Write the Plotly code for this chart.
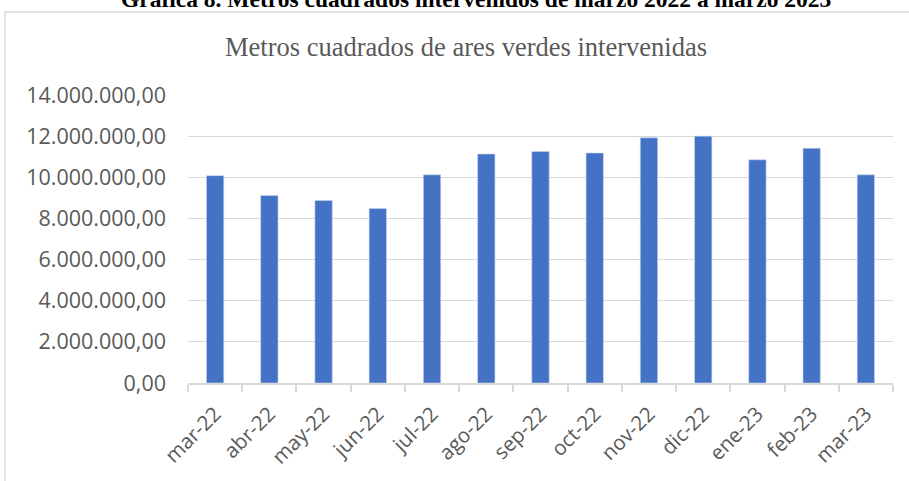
import plotly.graph_objects as go

months = ["mar-22", "abr-22", "may-22", "jun-22", "jul-22", "ago-22", "sep-22",
          "oct-22", "nov-22", "dic-22", "ene-23", "feb-23", "mar-23"]
metros = [10080000, 9110000, 8870000, 8480000, 10120000, 11130000, 11250000,
          11180000, 11920000, 12000000, 10850000, 11410000, 10120000]

fig_title = "Gráfica 8. Metros cuadrados intervenidos de marzo 2022 a marzo 2023"
chart_title = "Metros cuadrados de ares verdes intervenidas"

W, H = 909, 481
GRID = "#d9d9d9"
TXT = "#595959"

fig = go.Figure(go.Bar(
    x=months, y=metros,
    marker_color="#4472C4",
    marker_line_color="#c9d6ef", marker_line_width=0.6,
    width=0.32,
))

fig.update_layout(
    width=W, height=H,
    margin=dict(l=188, r=16, t=95, b=98),
    paper_bgcolor="white", plot_bgcolor="white",
    separators=",.",
    showlegend=False,
    font=dict(family="Open Sans", color=TXT, size=20),
)
fig.update_yaxes(
    range=[0, 14000000], dtick=2000000, tickformat=",.2f",
    showgrid=True, gridcolor=GRID, gridwidth=1.3,
    zeroline=False, showline=False, ticks="",
    tickfont=dict(size=21.5, color=TXT), ticklabelstandoff=21,
)
fig.update_xaxes(
    showline=True, linecolor=GRID, linewidth=1.5,
    ticks="outside", tickson="boundaries", ticklen=7, tickcolor=GRID, tickwidth=1.5,
    tickangle=-45, tickfont=dict(size=20.5, color=TXT), ticklabelstandoff=9,
)

# outer chart frame (runs off the right and bottom of the picture)
fig.add_shape(type="rect", xref="paper", yref="paper",
              x0=-183 / 705, x1=1.1, y0=-0.5, y1=1 + 83 / 288,
              line=dict(color=GRID, width=1.5), fillcolor="rgba(0,0,0,0)", layer="below")

fig.add_annotation(text=chart_title, xref="paper", yref="paper",
                   x=(466 - 188) / 705, y=1 + 48 / 288, xanchor="center", yanchor="middle",
                   showarrow=False, font=dict(family="Liberation Serif", size=26.5, color=TXT))
fig.add_annotation(text="<b>" + fig_title + "</b>", xref="paper", yref="paper",
                   x=(476 - 188) / 705, y=1 + 81 / 288, xanchor="center", yanchor="bottom",
                   showarrow=False, font=dict(family="Liberation Serif", size=23.5, color="black"))

fig.write_html("out.html", config={"displayModeBar": False},
               post_script="document.body.style.margin='0';")
